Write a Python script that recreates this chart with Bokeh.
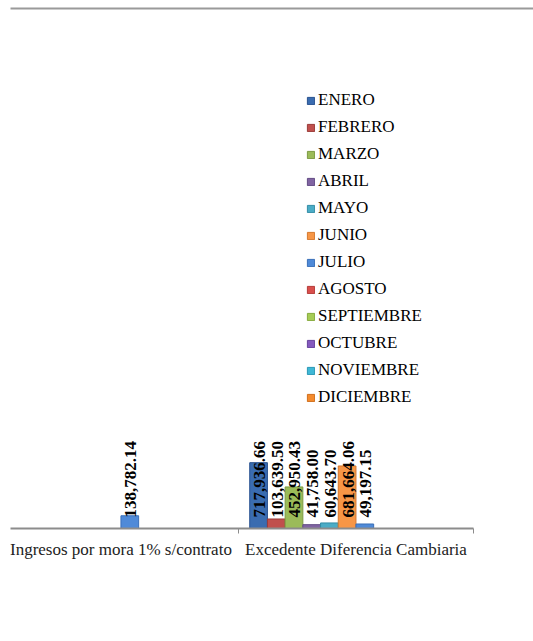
import math
from bokeh.plotting import figure
from bokeh.models import Range1d, FixedTicker, LinearAxis, Legend, LegendItem, ColumnDataSource
from bokeh.core.properties import value
from bokeh.embed import file_html
from bokeh.resources import INLINE

NaN = float("nan")

categories = ["Ingresos por mora 1% s/contrato", "Excedente Diferencia Cambiaria"]
months = ["ENERO", "FEBRERO", "MARZO", "ABRIL", "MAYO", "JUNIO",
          "JULIO", "AGOSTO", "SEPTIEMBRE", "OCTUBRE", "NOVIEMBRE", "DICIEMBRE"]

enero = [NaN, 717936.66]
febrero = [NaN, 103639.50]
marzo = [NaN, 452950.43]
abril = [NaN, 41758.00]
mayo = [NaN, 60643.70]
junio = [NaN, 681664.06]
julio = [138782.14, 49197.15]
agosto = [NaN, NaN]
septiembre = [NaN, NaN]
octubre = [NaN, NaN]
noviembre = [NaN, NaN]
diciembre = [NaN, NaN]

series = [enero, febrero, marzo, abril, mayo, junio,
          julio, agosto, septiembre, octubre, noviembre, diciembre]

colors = ["#3A6CB0", "#C0504D", "#9BBB59", "#8064A2", "#4BACC6", "#F79646",
          "#4F8AD8", "#D94F4C", "#A6CC55", "#8459BE", "#3FB8D6", "#F48A2C"]
edges = ["#2A5290", "#9A3B38", "#7C9A42", "#634C85", "#338DA6", "#D4782E",
         "#3A6FB8", "#B43B38", "#86AA3E", "#66439C", "#2A98B6", "#CF6E1C"]

FONT = "Liberation Serif"

p = figure(frame_width=523, frame_height=520, output_backend="svg",
           toolbar_location=None, x_range=Range1d(0.03, 2.2555),
           y_range=Range1d(0, 5670000), y_axis_location=None,
           x_axis_location=None,
           min_border_left=10, min_border_right=0, min_border_top=8,
           min_border_bottom=90)
p.xgrid.visible = False
p.ygrid.visible = False
p.outline_line_color = None
p.background_fill_color = "white"
p.border_fill_color = "white"

group_width = 0.904
bar_w = group_width / len(months)

items = []
for i, (m, vals, c, e) in enumerate(zip(months, series, colors, edges)):
    xs = [ci + (1 - group_width) / 2 + (i + 0.5) * bar_w for ci in range(len(categories))]
    src = ColumnDataSource(dict(x=xs, top=vals))
    r = p.vbar(x="x", top="top", width=bar_w, bottom=0, source=src,
               fill_color=c, line_color=e, line_width=1)
    items.append(LegendItem(label=m, renderers=[r]))
    lx = [x for x, v in zip(xs, vals) if not math.isnan(v)]
    lt = ["{:,.2f}".format(v) for v in vals if not math.isnan(v)]
    if lx:
        lsrc = ColumnDataSource(dict(x=lx, y=[0] * len(lx), t=lt))
        p.text(x="x", y="y", text="t", source=lsrc, angle=math.pi / 2,
               text_align="left", text_baseline="middle", y_offset=-11, x_offset=1,
               text_font=value(FONT), text_font_style="bold",
               text_font_size="17px", text_color="black")

# bottom category axis
ax = LinearAxis(ticker=FixedTicker(ticks=[0.5, 1.5], minor_ticks=[1.0, 2.0]),
                bounds=(0.03, 2.0))
ax.major_label_overrides = {0.5: categories[0], 1.5: categories[1]}
ax.axis_line_color = "#8C8C8C"
ax.axis_line_width = 2
ax.major_tick_line_color = None
ax.major_tick_out = 0
ax.major_tick_in = 0
ax.minor_tick_line_color = "#8C8C8C"
ax.minor_tick_line_width = 1
ax.minor_tick_out = 5
ax.minor_tick_in = 0
ax.major_label_standoff = 6
ax.major_label_text_font = FONT
ax.major_label_text_font_size = "17px"
ax.major_label_text_color = "#222222"
p.add_layout(ax, "below")

# top border line
top = LinearAxis(ticker=FixedTicker(ticks=[]))
top.axis_line_color = "#9A9A9A"
top.axis_line_width = 2
top.major_tick_line_color = None
top.minor_tick_line_color = None
top.major_label_text_font_size = "0px"
p.add_layout(top, "above")

legend = Legend(items=items, location=(296, 121), orientation="vertical",
                label_text_font=FONT, label_text_font_size="17px",
                label_text_color="black", glyph_width=9, glyph_height=9,
                label_standoff=3, label_height=20, spacing=7, padding=0, margin=0,
                border_line_color=None, background_fill_alpha=0)
p.add_layout(legend, "center")

open("out.html", "w").write(file_html(p, INLINE))
